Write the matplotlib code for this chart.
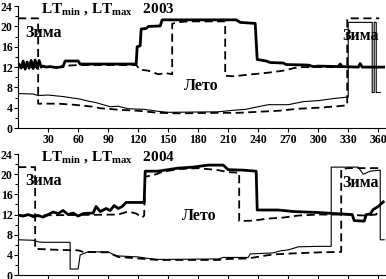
import matplotlib.pyplot as plt
from matplotlib.ticker import MultipleLocator

# ---- 2003 ----
max03_day = [1, 3, 5, 7, 9, 11, 13, 15, 17, 19, 21, 23, 25, 28, 32, 38, 42, 45, 47, 60, 62, 118, 119, 122, 123,
             128, 130, 142, 144, 218, 222, 237, 239, 248, 252, 265, 268, 290, 295, 300, 320, 322, 324, 340, 342, 344, 366]
max03_val = [12.5, 11.8, 13.2, 11.6, 13.0, 11.8, 13.3, 11.7, 13.4, 11.8, 13.3, 12.0, 12.2, 12.0, 12.1, 11.9, 12.0,
             12.2, 13.2, 13.2, 12.6, 12.6, 16.0, 16.2, 19.5, 19.6, 20.0, 20.1, 21.3, 21.3, 20.8, 20.6, 13.5, 13.2,
             12.9, 12.8, 12.5, 12.4, 12.1, 12.2, 12.1, 12.6, 12.1, 12.0, 12.7, 12.0, 12.0]
dmax03_day = [0, 20, 45, 50, 60, 118, 122, 130, 140, 148, 154, 154, 158, 170, 207, 207, 215, 225, 235, 250, 265, 280, 366]
dmax03_val = [12.0, 12.0, 12.0, 12.3, 12.4, 12.4, 11.5, 11.3, 10.6, 10.8, 10.6, 20.5, 20.8, 21.0, 21.0, 10.3, 10.2,
              10.4, 10.6, 10.9, 11.3, 12.0, 12.0]
dmin03_day = [0, 20, 20, 40, 55, 65, 75, 82, 90, 100, 120, 140, 160, 200, 220, 240, 260, 280, 300, 320, 329, 329, 361]
dmin03_val = [21.6, 21.6, 4.8, 4.8, 4.6, 4.4, 4.2, 3.9, 3.8, 3.6, 3.4, 3.0, 2.9, 3.0, 3.0, 3.2, 3.4, 3.8, 4.0, 4.3,
              4.5, 21.6, 21.6]
min03_day = [0, 15, 20, 30, 45, 55, 62, 70, 78, 85, 92, 100, 110, 125, 140, 150, 200, 215, 228, 240, 250, 270, 285,
             300, 315, 329, 330, 330, 354, 354, 356, 356, 358, 358, 362]
min03_val = [6.8, 6.7, 6.4, 6.5, 6.2, 5.9, 5.7, 5.3, 5.0, 4.6, 4.2, 4.3, 3.8, 3.7, 3.3, 3.1, 3.2, 3.5, 3.7, 4.2, 4.6,
             4.6, 5.2, 5.4, 5.8, 6.1, 6.1, 20.8, 20.8, 7.0, 7.0, 20.8, 20.8, 7.0, 7.0]

# ---- 2004 ----
max04_day = [0, 5, 10, 15, 20, 25, 30, 35, 40, 45, 50, 55, 60, 65, 75, 78, 82, 88, 92, 96, 100, 104, 108, 126, 127,
             140, 150, 160, 175, 190, 205, 210, 225, 238, 239, 260, 275, 300, 325, 334, 336, 346, 348, 352, 355, 360, 365]
max04_val = [11.9, 11.7, 12.0, 11.6, 11.8, 11.5, 12.0, 12.5, 12.2, 12.8, 12.0, 12.3, 11.7, 12.2, 12.3, 13.6, 12.6,
             13.2, 12.8, 13.8, 13.2, 13.6, 14.4, 14.4, 20.6, 20.6, 20.9, 21.2, 21.4, 21.8, 21.8, 20.9, 20.8, 20.6,
             12.9, 12.9, 12.6, 12.4, 12.1, 12.0, 10.8, 10.7, 12.0, 12.1, 13.0, 13.6, 14.5]
dmax04_day = [0, 100, 110, 118, 124, 126, 127, 135, 145, 160, 180, 200, 210, 221, 221, 235, 250, 265, 280, 300, 330,
              345, 358, 360]
dmax04_val = [11.8, 12.0, 12.6, 12.2, 11.4, 11.8, 19.5, 19.8, 20.5, 21.0, 21.2, 20.8, 20.4, 20.3, 10.7, 10.8, 11.2,
              11.4, 11.8, 12.0, 12.0, 11.8, 12.0, 13.0]
dmin04_day = [0, 17, 17, 40, 60, 65, 90, 100, 120, 140, 200, 210, 230, 245, 255, 275, 300, 323, 323, 330, 362]
dmin04_val = [21.4, 21.4, 5.2, 5.0, 4.9, 4.6, 4.5, 3.6, 3.3, 3.0, 3.0, 3.2, 3.3, 3.8, 4.1, 4.3, 4.5, 4.6, 21.0,
              21.2, 21.2]
min04_day = [0, 15, 20, 25, 52, 52, 60, 62, 66, 70, 90, 96, 100, 120, 130, 140, 200, 205, 230, 232, 255, 262, 270,
             280, 300, 313, 313, 340, 345, 352, 362, 362, 366]
min04_val = [7.0, 6.9, 6.6, 6.5, 6.5, 1.2, 1.2, 4.0, 4.3, 4.6, 4.6, 4.0, 3.8, 3.6, 3.3, 3.1, 3.2, 3.5, 3.5, 4.2, 4.4,
             4.8, 5.0, 5.6, 5.7, 5.7, 21.4, 21.4, 20.0, 20.6, 20.8, 7.0, 7.0]

xticks = [30, 60, 90, 120, 150, 180, 210, 240, 270, 300, 330, 360]
yticks = [0, 4, 8, 12, 16, 20, 24]

plt.rcParams['font.family'] = 'Liberation Serif'
plt.rcParams['font.weight'] = 'bold'
plt.rcParams['mathtext.fontset'] = 'custom'
plt.rcParams['mathtext.rm'] = 'Liberation Serif:bold'
plt.rcParams['mathtext.bf'] = 'Liberation Serif:bold'
plt.rcParams['mathtext.it'] = 'Liberation Serif:bold'

fig = plt.figure(figsize=(3.86, 2.79), dpi=100)
ax1 = fig.add_axes([0.047, 0.541, 0.951, 0.437])
ax2 = fig.add_axes([0.047, 0.014, 0.951, 0.434])

panels = [
    (ax1, max03_day, max03_val, dmax03_day, dmax03_val, dmin03_day, dmin03_val, min03_day, min03_val, '2003', True),
    (ax2, max04_day, max04_val, dmax04_day, dmax04_val, dmin04_day, dmin04_val, min04_day, min04_val, '2004', False),
]

for ax, xd, yd, xdm, ydm, xdn, ydn, xn, yn, year, labels in panels:
    ax.plot(xn, yn, color='black', lw=0.8)
    ax.plot(xdn, ydn, color='black', lw=1.3, dashes=(4.5, 2.5))
    ax.plot(xdm, ydm, color='black', lw=1.3, dashes=(4.5, 2.5))
    ax.plot(xd, yd, color='black', lw=2.0)
    ax.set_xlim(0, 367)
    ax.set_ylim(0, 24)
    ax.set_xticks(xticks)
    ax.set_yticks(yticks)
    ax.yaxis.set_minor_locator(MultipleLocator(2))
    ax.tick_params(axis='both', direction='out', length=3, width=0.8, labelsize=8.5, pad=1)
    ax.tick_params(axis='y', which='minor', direction='out', length=2, width=0.8)
    if not labels:
        ax.set_xticklabels([])
    for s in ['top', 'right']:
        ax.spines[s].set_visible(False)
    ax.text(90, 23.5, r'$\mathbf{LT_{min}}$ , $\mathbf{LT_{max}}$   ' + year,
            ha='center', va='center', fontsize=11)
    ax.text(25, 18.7, 'Зима', ha='center', va='center', fontsize=11.5)
    ax.text(342, 18.2, 'Зима', ha='center', va='center', fontsize=11.5)

ax1.text(183, 8.3, 'Лето', ha='center', va='center', fontsize=11.5)
ax2.text(181, 11.8, 'Лето', ha='center', va='center', fontsize=11.5)

fig.savefig('out.png', dpi=100)
